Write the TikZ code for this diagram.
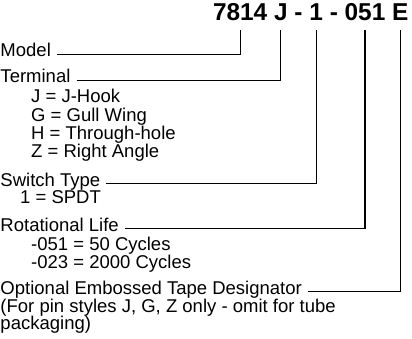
\documentclass[tikz,border=0pt]{standalone}
\usepackage{fontspec}
\setmainfont{Liberation Sans}
\usetikzlibrary{positioning}

\begin{document}
\begin{tikzpicture}[x=1pt,y=-1pt,
  codepart/.style={font=\fontsize{24.4}{24}\selectfont\bfseries,inner sep=0pt,outer xsep=0pt,outer ysep=9pt},
  lbl/.style={font=\fontsize{18.5}{18.5}\selectfont,inner sep=0pt,anchor=base west},
  lead/.style={line width=1.1pt,shorten <=6pt}]
  \useasboundingbox (0,0) rectangle (412,339);
  % part number
  \node[codepart,anchor=base west] (mdl) at (213,21) {7814};
  \node[codepart,base right=6.8pt of mdl] (trm) {J};
  \node[codepart,base right=6.8pt of trm] (d1) {-};
  \node[codepart,base right=6.8pt of d1] (sw) {1};
  \node[codepart,base right=6.8pt of sw] (d2) {-};
  \node[codepart,base right=6.8pt of d2] (life) {051};
  \node[codepart,base right=6.8pt of life] (tape) {E};
  % labels
  \node[lbl] (model) at (0.3,57) {Model};
  \node[lbl] (terminal) at (0.3,83) {Terminal};
  \foreach \t [count=\i] in {J = J-Hook,G = Gull Wing,H = Through-hole,Z = Right Angle}
    \node[lbl] (term\i) at (31,{103+18.3*(\i-1)}) {\t};
  \node[lbl] (switch) at (0.3,186) {Switch Type};
  \node[lbl] (spdt) at (20,204) {1 = SPDT};
  \node[lbl] (rotation) at (0.3,231) {Rotational Life};
  \node[lbl] (cyc1) at (31,250) {-051 = 50 Cycles};
  \node[lbl] (cyc2) at (31,268) {-023 = 2000 Cycles};
  \node[lbl] (option) at (0.3,294) {Optional Embossed Tape Designator};
  \node[lbl] (note1) at (0.3,312) {(For pin styles J, G, Z only - omit for tube};
  \node[lbl] (note2) at (0.3,329) {packaging)};
  % leaders
  \draw[lead] (model.mid east) -| (mdl.south);
  \draw[lead] (terminal.mid east) -| (trm.south);
  \draw[lead] (switch.mid east) -| (sw.south);
  \draw[lead] (rotation.mid east) -| (life.south);
  \draw[lead] (option.mid east) -| (tape.south);
\end{tikzpicture}
\end{document}
